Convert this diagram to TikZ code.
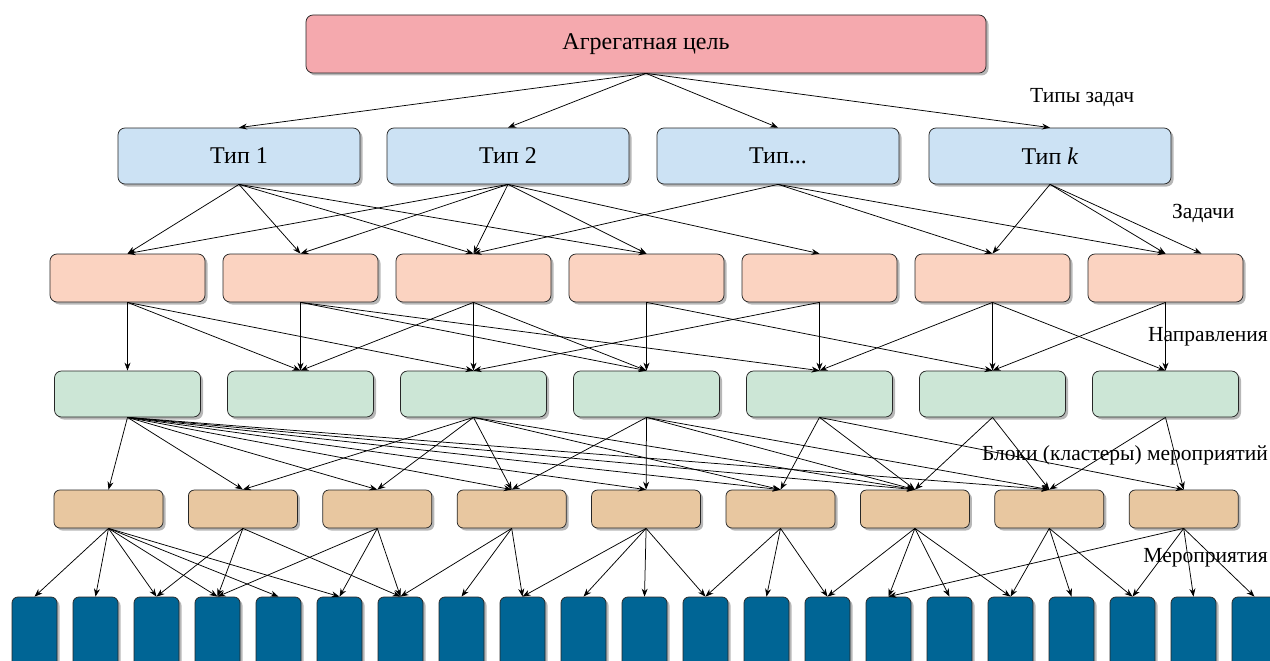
\documentclass[tikz,border=0pt]{standalone}
\usepackage{fontspec}
\setmainfont{Liberation Serif}
\usetikzlibrary{arrows.meta,shadows}
\definecolor{cTop}{HTML}{F5A9AE}
\definecolor{cType}{HTML}{CCE2F4}
\definecolor{cTask}{HTML}{FBD3C1}
\definecolor{cDir}{HTML}{CCE6D6}
\definecolor{cBlock}{HTML}{E8C7A0}
\definecolor{cMeas}{HTML}{006595}
\begin{document}
\begin{tikzpicture}[x=1pt,y=-1pt,
  box/.style={draw=black!85, line width=0.75pt, rounded corners=7pt, inner sep=0pt,
    drop shadow={shadow xshift=2.5pt,shadow yshift=-2.5pt,opacity=0.4,fill=black!70}},
  topbox/.style={box, fill=cTop, minimum width=680pt, minimum height=58pt, font=\fontsize{24}{24}\selectfont},
  typebox/.style={box, fill=cType, minimum width=242pt, minimum height=56pt, font=\fontsize{24}{24}\selectfont},
  taskbox/.style={box, fill=cTask, minimum width=155pt, minimum height=48pt},
  dirbox/.style={box, fill=cDir, minimum width=146pt, minimum height=46pt},
  blockbox/.style={box, fill=cBlock, rounded corners=6pt, minimum width=109pt, minimum height=38pt},
  measbox/.style={box, fill=cMeas, rounded corners=6pt, minimum width=45pt, minimum height=90pt},
  arr/.style={-{Stealth[length=8pt,width=6pt]}, line width=0.75pt, black},
  lab/.style={font=\fontsize{21.5}{21.5}\selectfont, anchor=east, inner sep=0pt}]
\useasboundingbox (0,0) rectangle (1270,661);
\clip (0,0) rectangle (1270,661);

\node[topbox] (top) at (646,44) {Агрегатная цель};
\node[typebox] (T1) at (239,156) {Тип 1};
\node[typebox] (T2) at (508,156) {Тип 2};
\node[typebox] (T3) at (778,156) {Тип...};
\node[typebox] (T4) at (1050,156) {Тип \textit{k}};

\foreach \i in {1,...,7} {
  \node[taskbox] (t\i) at ({127.5+173*(\i-1)},278) {};
  \node[dirbox] (d\i) at ({127.5+173*(\i-1)},394) {};
}
\foreach \i in {1,...,9} {
  \node[blockbox] (b\i) at ({108.5+134.4*(\i-1)},509) {};
}
\foreach \i in {1,...,21} {
  \node[measbox] (m\i) at ({34.5+61*(\i-1)},642) {};
}

% goal -> types
\foreach \t in {T1,T2,T3,T4} \draw[arr] (top.south) -- (\t.north);

% types -> tasks
\foreach \s/\t in {T1/t1,T1/t2,T1/t3,T1/t4,
                   T2/t1,T2/t2,T2/t3,T2/t4,T2/t5,
                   T3/t3,T3/t6,T3/t7,
                   T4/t6,T4/t7}
  \draw[arr] (\s.south) -- (\t.north);
\draw[arr] (T4.south) -- ([xshift=36pt]t7.north);

% tasks -> directions
\foreach \s/\t in {t1/d1,t1/d2,t1/d3,
                   t2/d2,t2/d4,t2/d5,
                   t3/d2,t3/d3,t3/d4,
                   t4/d4,t4/d6,
                   t5/d3,t5/d5,
                   t6/d5,t6/d6,t6/d7,
                   t7/d6,t7/d7}
  \draw[arr] (\s.south) -- (\t.north);

% directions -> blocks
\foreach \s/\t in {d1/b1,d1/b2,d1/b3,d1/b4,d1/b5,d1/b6,d1/b7,d1/b8,
                   d3/b2,d3/b3,d3/b4,d3/b6,d3/b7,
                   d4/b4,d4/b5,d4/b7,d4/b8,
                   d5/b6,d5/b7,d5/b9,
                   d6/b7,d6/b8,
                   d7/b8,d7/b9}
  \draw[arr] (\s.south) -- (\t.north);

% blocks -> measures
\foreach \s/\t in {b1/m1,b1/m2,b1/m3,b1/m4,b1/m5,b1/m6,
                   b2/m3,b2/m4,b2/m7,
                   b3/m4,b3/m6,b3/m7,
                   b4/m7,b4/m8,b4/m9,
                   b5/m9,b5/m10,b5/m11,b5/m12,
                   b6/m12,b6/m13,b6/m14,
                   b7/m14,b7/m15,b7/m16,b7/m17,
                   b8/m17,b8/m18,b8/m19,
                   b9/m15,b9/m19,b9/m20,b9/m21}
  \draw[arr] (\s.south) -- (\t.north);

\node[lab, anchor=west] (l1) at (1030,98) {Типы задач};
\node[lab, anchor=west] (l2) at (1172,213) {Задачи};
\node[lab] (l3) at (1268,337) {Направления};
\node[lab] (l4) at (1268,455) {Блоки (кластеры) мероприятий};
\node[lab] (l5) at (1268,558) {Мероприятия};
\end{tikzpicture}
\end{document}
